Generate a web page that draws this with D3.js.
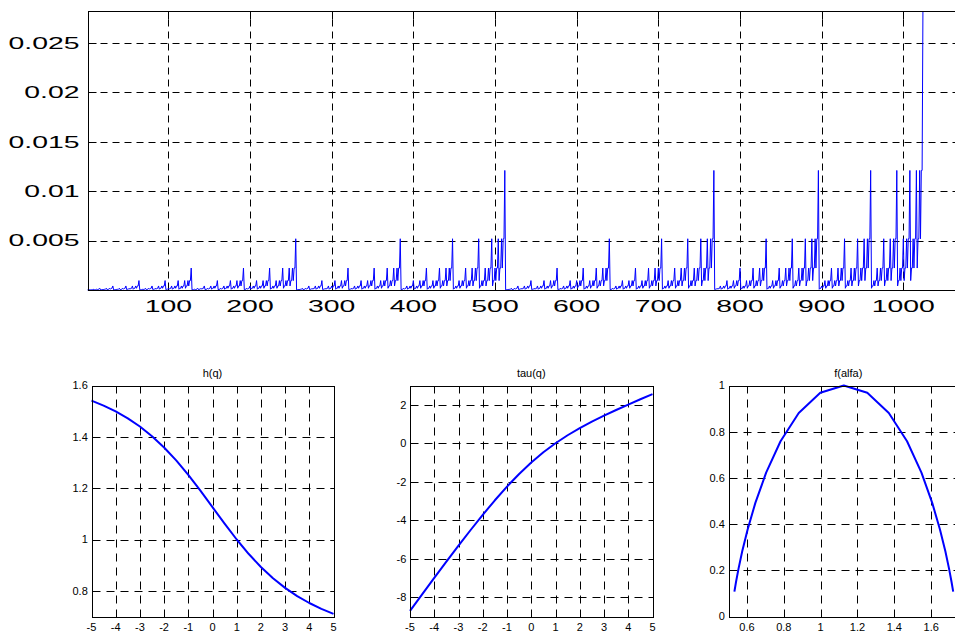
<!DOCTYPE html>
<html><head><meta charset="utf-8">
<script src="https://cdn.jsdelivr.net/npm/d3@7"></script>
<style>html,body{margin:0;padding:0;background:#fff;overflow:hidden}</style>
</head><body>
<svg id="chart" width="955" height="632" xmlns="http://www.w3.org/2000/svg"></svg>
<script>
// ---------- DATA ----------
// distinct measure levels seen in the top series (index 0 = lowest, 10 = highest)
const measureLevels = [5.9049e-6, 1.37781e-5, 3.21489e-5, 7.50141e-5, 1.75033e-4, 4.08410e-4,
                       9.52957e-4, 2.22357e-3, 5.18832e-3, 1.21061e-2, 2.82475e-2];
// level code for each of the 1024 samples (hex digit = index into measureLevels)
const measureCodes = [
 "0112122312232334","1223233423343445","1223233423343445","2334344534454556",
 "1223233423343445","2334344534454556","2334344534454556","3445455645565667",
 "1223233423343445","2334344534454556","2334344534454556","3445455645565667",
 "2334344534454556","3445455645565667","3445455645565667","4556566756676778",
 "1223233423343445","2334344534454556","2334344534454556","3445455645565667",
 "2334344534454556","3445455645565667","3445455645565667","4556566756676778",
 "2334344534454556","3445455645565667","3445455645565667","4556566756676778",
 "3445455645565667","4556566756676778","4556566756676778","5667677867787889",
 "1223233423343445","2334344534454556","2334344534454556","3445455645565667",
 "2334344534454556","3445455645565667","3445455645565667","4556566756676778",
 "2334344534454556","3445455645565667","3445455645565667","4556566756676778",
 "3445455645565667","4556566756676778","4556566756676778","5667677867787889",
 "2334344534454556","3445455645565667","3445455645565667","4556566756676778",
 "3445455645565667","4556566756676778","4556566756676778","5667677867787889",
 "3445455645565667","4556566756676778","4556566756676778","5667677867787889",
 "4556566756676778","5667677867787889","5667677867787889","677878897889899a"
];
const topXTicks = [100, 200, 300, 400, 500, 600, 700, 800, 900, 1000];
const topYTicks = [0.005, 0.01, 0.015, 0.02, 0.025];

const q     = [-5, -4.5, -4, -3.5, -3, -2.5, -2, -1.5, -1, -0.5, 0, 0.5, 1, 1.5, 2, 2.5, 3, 3.5, 4, 4.5, 5];
const hq    = [1.5411, 1.5218, 1.4989, 1.4720, 1.4401, 1.4025, 1.3586, 1.3082, 1.2515, 1.1900, 1.1258,
               1.0615, 1.0000, 0.9434, 0.8929, 0.8490, 0.8115, 0.7796, 0.7526, 0.7298, 0.7104];
const tauq  = [-8.7055, -7.8479, -6.9957, -6.1519, -5.3202, -4.5062, -3.7172, -2.9622, -2.2515, -1.5950, -1.0000,
               -0.4692, 0.0000, 0.4151, 0.7859, 1.1226, 1.4344, 1.7285, 2.0104, 2.2841, 2.5522];
const alfa  = [1.7196, 1.7105, 1.6971, 1.6771, 1.6478, 1.6058, 1.5473, 1.4691, 1.3702, 1.2533, 1.1258,
               0.9982, 0.8813, 0.7824, 0.7043, 0.6458, 0.6038, 0.5745, 0.5545, 0.5410, 0.5320];
const falfa = [0.1078, 0.1504, 0.2074, 0.2822, 0.3769, 0.4918, 0.6226, 0.7585, 0.8813, 0.9683, 1.0000,
               0.9683, 0.8813, 0.7585, 0.6226, 0.4918, 0.3769, 0.2822, 0.2074, 0.1504, 0.1078];

const qTicks    = [-5, -4, -3, -2, -1, 0, 1, 2, 3, 4, 5];
const hTicks    = [0.8, 1, 1.2, 1.4, 1.6];
const tauTicks  = [-8, -6, -4, -2, 0, 2];
const alfaTicks = [0.6, 0.8, 1, 1.2, 1.4, 1.6];
const fTicks    = [0, 0.2, 0.4, 0.6, 0.8, 1];

// ---------- DRAWING ----------
const svg = d3.select('#chart');
const FONT = '"Liberation Sans", Arial, Helvetica, sans-serif';
const measure = measureCodes.join('').split('').map(c => measureLevels[parseInt(c, 16)]);
const measurePts = measure.map((v, i) => ({x: i + 1, y: v}));

function panel(c) {
  const x = d3.scaleLinear().domain(c.xDomain).range([c.left, c.right]);
  const y = d3.scaleLinear().domain(c.yDomain).range([c.bottom, c.top]);
  const g = svg.append('g');
  const px = v => Math.round(v) + 0.5;
  const L = px(c.left), R = px(c.right), T = px(c.top), B = px(c.bottom);

  // grid
  g.selectAll(null).data(c.xTicks.filter(t => x(t) > c.left + 2 && x(t) < c.right - 2)).join('line')
    .attr('x1', d => px(x(d))).attr('x2', d => px(x(d)))
    .attr('y1', B).attr('y2', T)
    .attr('stroke', '#000').attr('stroke-width', 1).attr('stroke-dasharray', c.dash);
  g.selectAll(null).data(c.yTicks.filter(t => y(t) < c.bottom - 2 && y(t) > c.top + 2)).join('line')
    .attr('y1', d => px(y(d))).attr('y2', d => px(y(d)))
    .attr('x1', L).attr('x2', R)
    .attr('stroke', '#000').attr('stroke-width', 1).attr('stroke-dasharray', c.dash);

  // inward ticks
  g.selectAll(null).data(c.xTicks).join('line')
    .attr('x1', d => px(x(d))).attr('x2', d => px(x(d)))
    .attr('y1', B).attr('y2', B - c.tickLen).attr('stroke', '#000');
  g.selectAll(null).data(c.xTicks).join('line')
    .attr('x1', d => px(x(d))).attr('x2', d => px(x(d)))
    .attr('y1', T).attr('y2', T + c.tickLen).attr('stroke', '#000');
  g.selectAll(null).data(c.yTicks).join('line')
    .attr('y1', d => px(y(d))).attr('y2', d => px(y(d)))
    .attr('x1', L).attr('x2', L + c.tickLen).attr('stroke', '#000');
  g.selectAll(null).data(c.yTicks).join('line')
    .attr('y1', d => px(y(d))).attr('y2', d => px(y(d)))
    .attr('x1', R).attr('x2', R - c.tickLen).attr('stroke', '#000');

  // data line
  g.append('path').datum(c.points)
    .attr('d', d3.line().x(d => x(d.x)).y(d => y(d.y)))
    .attr('fill', 'none').attr('stroke', '#0000ff')
    .attr('stroke-width', c.lineWidth).attr('stroke-linejoin', 'round');

  // box
  g.append('rect').attr('x', L).attr('y', T).attr('width', R - L).attr('height', B - T)
    .attr('fill', 'none').attr('stroke', '#000').attr('stroke-width', 1);

  // tick labels
  g.selectAll(null).data(c.xTicks).join('text')
    .attr('transform', d => `translate(${x(d)},${c.xLabelY}) scale(${c.stretch},1)`)
    .attr('text-anchor', 'middle')
    .attr('font-family', FONT).attr('font-size', c.fontSize).attr('fill', '#000')
    .text(d => String(d));
  g.selectAll(null).data(c.yTicks).join('text')
    .attr('transform', d => `translate(${c.left - c.yLabelGap},${y(d)}) scale(${c.stretch},1)`)
    .attr('dy', '0.35em').attr('text-anchor', 'end')
    .attr('font-family', FONT).attr('font-size', c.fontSize).attr('fill', '#000')
    .text(d => String(d));

  if (c.title) {
    g.append('text').attr('x', (c.left + c.right) / 2).attr('y', c.titleY)
      .attr('text-anchor', 'middle').attr('font-family', FONT).attr('font-size', 11)
      .attr('fill', '#000').text(c.title);
  }
}

// top: the measure
panel({
  left: 87.5, right: 985, top: 11, bottom: 290,
  xDomain: [1, 1100], yDomain: [0, 0.02825],
  xTicks: topXTicks, yTicks: topYTicks,
  points: measurePts, lineWidth: 1,
  dash: '7,5', tickLen: 8,
  fontSize: 16.5, stretch: 1.72, xLabelY: 311.5, yLabelGap: 8
});

const bottomCommon = {
  top: 385.5, bottom: 616.5, lineWidth: 2, dash: '8,6', tickLen: 4,
  fontSize: 11, stretch: 1, xLabelY: 631, yLabelGap: 3.7, titleY: 377
};

panel(Object.assign({}, bottomCommon, {
  left: 91.5, right: 333.5, xDomain: [-5, 5], yDomain: [0.7, 1.6],
  xTicks: qTicks, yTicks: hTicks, title: 'h(q)',
  points: q.map((v, i) => ({x: v, y: hq[i]}))
}));

panel(Object.assign({}, bottomCommon, {
  left: 410, right: 652.5, xDomain: [-5, 5], yDomain: [-9, 3],
  xTicks: qTicks, yTicks: tauTicks, title: 'tau(q)',
  points: q.map((v, i) => ({x: v, y: tauq[i]}))
}));

panel(Object.assign({}, bottomCommon, {
  left: 728.5, right: 968, xDomain: [0.5, 1.8], yDomain: [0, 1],
  xTicks: alfaTicks, yTicks: fTicks, title: 'f(alfa)',
  points: alfa.map((v, i) => ({x: v, y: falfa[i]}))
}));
</script>
</body></html>
